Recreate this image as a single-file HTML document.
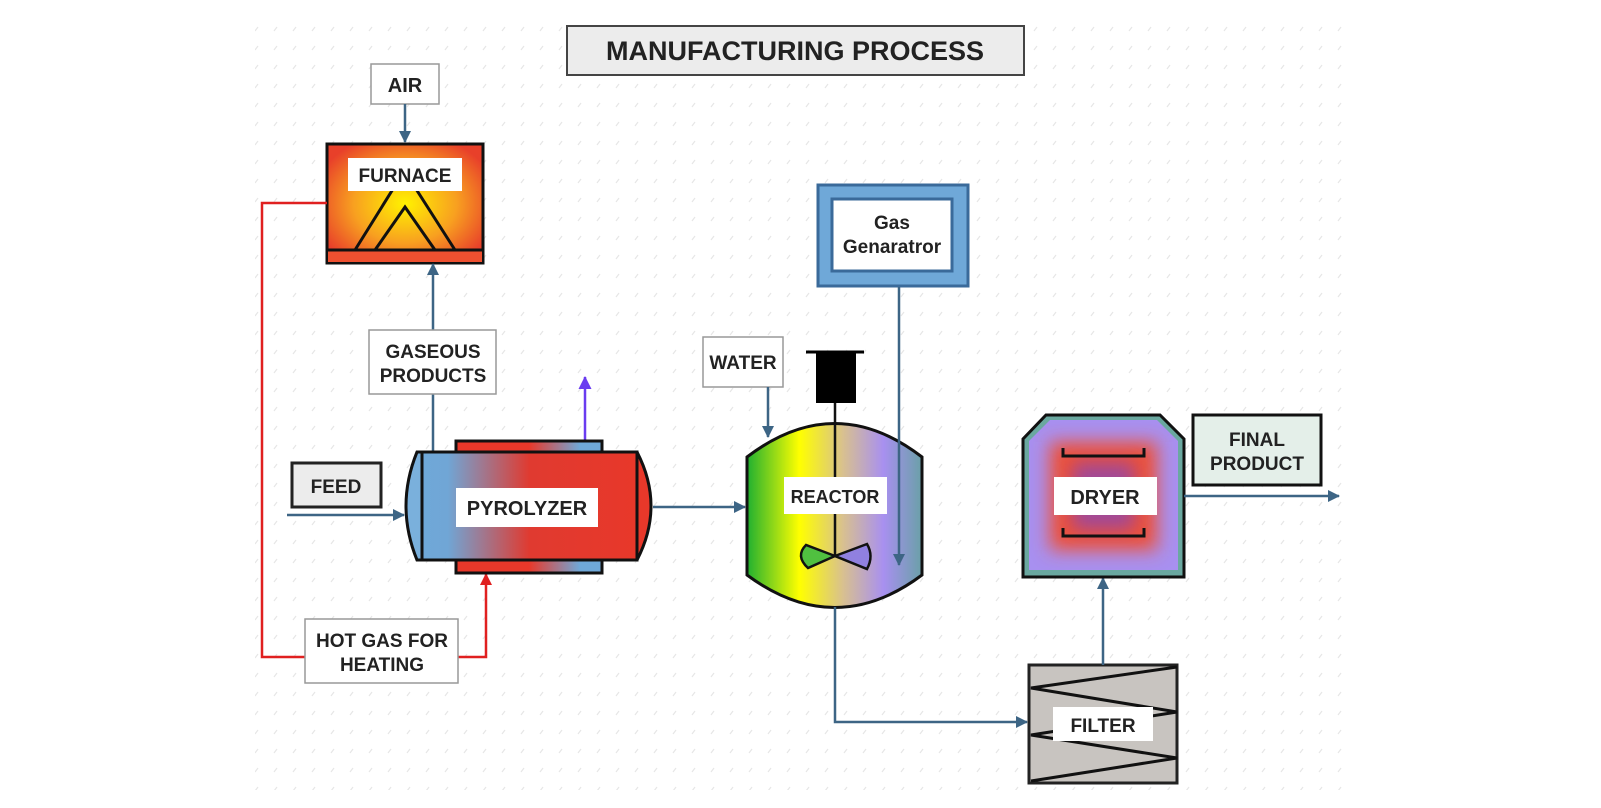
<!DOCTYPE html>
<html><head><meta charset="utf-8"><style>
html,body{margin:0;padding:0;background:#fff;}
svg{display:block;}
text{font-family:"Liberation Sans",Arial,sans-serif;font-weight:bold;fill:#222;text-anchor:middle;}
</style></head><body>
<svg width="1601" height="808" viewBox="0 0 1601 808" xmlns="http://www.w3.org/2000/svg">
<defs>
<pattern id="bg" width="19" height="19" patternUnits="userSpaceOnUse">
<line x1="8" y1="12" x2="11" y2="8" stroke="#e6e6e6" stroke-width="1.2"/>
</pattern>
<marker id="ab" markerWidth="12" markerHeight="12" refX="11" refY="6" orient="auto" markerUnits="userSpaceOnUse"><path d="M0,0 L12,6 L0,12 Z" fill="#3d6585"/></marker>
<marker id="ar" markerWidth="12" markerHeight="12" refX="11" refY="6" orient="auto" markerUnits="userSpaceOnUse"><path d="M0,0 L12,6 L0,12 Z" fill="#e02020"/></marker>
<marker id="ap" markerWidth="13" markerHeight="13" refX="12" refY="6.5" orient="auto" markerUnits="userSpaceOnUse"><path d="M0,0 L13,6.5 L0,13 Z" fill="#6a3cf0"/></marker>
<radialGradient id="fg" cx="0.5" cy="0.5" r="0.6"><stop offset="0" stop-color="#fff200"/><stop offset="0.55" stop-color="#f8a020"/><stop offset="1" stop-color="#e8402a"/></radialGradient>
<linearGradient id="pb" x1="0" x2="1"><stop offset="0" stop-color="#6fa8d8"/><stop offset="0.12" stop-color="#70a6d6"/><stop offset="0.5" stop-color="#e03a30"/><stop offset="1" stop-color="#e8382a"/></linearGradient>
<linearGradient id="pj" x1="0" x2="1"><stop offset="0" stop-color="#e8382a"/><stop offset="0.5" stop-color="#e8382a"/><stop offset="0.85" stop-color="#6fa8d8"/><stop offset="1" stop-color="#6fa8d8"/></linearGradient>
<linearGradient id="rg" x1="0" x2="1"><stop offset="0" stop-color="#20b030"/><stop offset="0.3" stop-color="#ffff00"/><stop offset="0.55" stop-color="#d8c090"/><stop offset="0.78" stop-color="#a890f0"/><stop offset="1" stop-color="#6aa0a8"/></linearGradient>
<filter id="bl" x="-50%" y="-50%" width="200%" height="200%"><feGaussianBlur stdDeviation="9"/></filter>
<clipPath id="dc"><path d="M1050,420 L1157,420 L1178,441 L1178,570 L1029,570 L1029,441 Z"/></clipPath>
</defs>
<rect x="255" y="25" width="1090" height="765" fill="url(#bg)"/>

<rect x="567" y="26" width="457" height="49" fill="#ececec" stroke="#444" stroke-width="2"/>
<text x="795" y="60" font-size="27" fill="#333">MANUFACTURING PROCESS</text>

<rect x="371" y="64" width="68" height="40" fill="#fff" stroke="#999" stroke-width="1.5"/>
<text x="405" y="92" font-size="20">AIR</text>
<line x1="405" y1="104" x2="405" y2="142" stroke="#3d6585" stroke-width="2.5" marker-end="url(#ab)"/>

<rect x="327" y="144" width="156" height="119" fill="url(#fg)" stroke="#111" stroke-width="3"/>
<rect x="328" y="250" width="154" height="12" fill="#ee5030"/>
<line x1="327" y1="250" x2="483" y2="250" stroke="#111" stroke-width="3"/>
<polyline points="355,250 393,189 416,189 455,250" fill="none" stroke="#111" stroke-width="3"/>
<polyline points="375,250 405,207 435,250" fill="none" stroke="#111" stroke-width="3"/>
<rect x="348" y="158" width="114" height="33" fill="#fff"/>
<text x="405" y="182" font-size="19">FURNACE</text>

<polyline points="327,203 262,203 262,657 305,657" fill="none" stroke="#e02020" stroke-width="2.5"/>
<polyline points="458,657 486,657 486,574" fill="none" stroke="#e02020" stroke-width="2.5" marker-end="url(#ar)"/>
<rect x="305" y="619" width="153" height="64" fill="#fff" stroke="#999" stroke-width="1.5"/>
<text x="382" y="647" font-size="19">HOT GAS FOR</text>
<text x="382" y="671" font-size="19">HEATING</text>

<line x1="433" y1="452" x2="433" y2="264" stroke="#3d6585" stroke-width="2.5" marker-end="url(#ab)"/>
<rect x="369" y="330" width="127" height="64" fill="#fff" stroke="#999" stroke-width="1.5"/>
<text x="433" y="358" font-size="19">GASEOUS</text>
<text x="433" y="382" font-size="19">PRODUCTS</text>

<line x1="585" y1="441" x2="585" y2="377" stroke="#6a3cf0" stroke-width="2.5" marker-end="url(#ap)"/>

<rect x="292" y="463" width="89" height="44" fill="#ececec" stroke="#222" stroke-width="3"/>
<text x="336" y="493" font-size="19">FEED</text>
<line x1="287" y1="515" x2="404" y2="515" stroke="#3d6585" stroke-width="2.5" marker-end="url(#ab)"/>

<rect x="456" y="441" width="146" height="132" fill="url(#pj)" stroke="#111" stroke-width="3"/>
<path d="M417,452 Q395,506 417,560 L422,560 L422,452 Z" fill="#7ab0dc" stroke="#111" stroke-width="3"/>
<path d="M637,452 Q665,506 637,560 Z" fill="#e8382a" stroke="#111" stroke-width="3"/>
<rect x="422" y="452" width="215" height="108" fill="url(#pb)" stroke="#111" stroke-width="3"/>
<rect x="456" y="488" width="142" height="39" fill="#fff"/>
<text x="527" y="515" font-size="20">PYROLYZER</text>
<line x1="653" y1="507" x2="745" y2="507" stroke="#3d6585" stroke-width="2.5" marker-end="url(#ab)"/>

<rect x="703" y="337" width="80" height="50" fill="#fff" stroke="#999" stroke-width="1.5"/>
<text x="743" y="369" font-size="19">WATER</text>
<line x1="768" y1="387" x2="768" y2="437" stroke="#3d6585" stroke-width="2.5" marker-end="url(#ab)"/>

<path d="M747,457 Q835,390 922,457 L922,575 Q835,640 747,575 Z" fill="url(#rg)" stroke="#111" stroke-width="3"/>
<rect x="816" y="352" width="40" height="51" fill="#000"/>
<line x1="806" y1="352" x2="864" y2="352" stroke="#000" stroke-width="3"/>
<line x1="835" y1="403" x2="835" y2="556" stroke="#111" stroke-width="2.5"/>
<path d="M835,556 L806,545 Q795,556 808,568 Z" fill="#50c040" stroke="#111" stroke-width="2.5"/>
<path d="M835,556 L867,544 Q874,556 867,569 Z" fill="#9080e0" stroke="#111" stroke-width="2.5"/>
<rect x="784" y="477" width="103" height="37" fill="#fff"/>
<text x="835" y="503" font-size="18">REACTOR</text>

<rect x="818" y="185" width="150" height="101" fill="#6fa8d8" stroke="#3a6a9a" stroke-width="3"/>
<rect x="832" y="199" width="120" height="72" fill="#fff" stroke="#3a6a9a" stroke-width="3"/>
<text x="892" y="229" font-size="19">Gas</text>
<text x="892" y="253" font-size="19">Genaratror</text>
<line x1="899" y1="287" x2="899" y2="565" stroke="#3d6585" stroke-width="2.5" marker-end="url(#ab)"/>

<polyline points="835,607 835,722 1027,722" fill="none" stroke="#3d6585" stroke-width="2.5" marker-end="url(#ab)"/>

<rect x="1029" y="665" width="148" height="118" fill="#c8c4c0" stroke="#222" stroke-width="3"/>
<polyline points="1177,667 1031,688 1177,712 1031,735 1177,758 1031,781" fill="none" stroke="#111" stroke-width="3"/>
<rect x="1053" y="707" width="100" height="34" fill="#fff"/>
<text x="1103" y="732" font-size="19">FILTER</text>
<line x1="1103" y1="665" x2="1103" y2="578" stroke="#3d6585" stroke-width="2.5" marker-end="url(#ab)"/>

<path d="M1046,415 L1160,415 L1184,439 L1184,577 L1023,577 L1023,439 Z" fill="#6aa8a0" stroke="#111" stroke-width="3"/>
<g clip-path="url(#dc)">
<rect x="1020" y="410" width="170" height="170" fill="#a890f0"/>
<rect x="1050" y="442" width="107" height="108" fill="#f05030" filter="url(#bl)"/>
<rect x="1072" y="462" width="63" height="68" fill="#a04898" filter="url(#bl)"/>
</g>
<polyline points="1063,448 1063,456 1144,456 1144,448" fill="none" stroke="#111" stroke-width="3"/>
<polyline points="1063,528 1063,536 1144,536 1144,528" fill="none" stroke="#111" stroke-width="3"/>
<rect x="1054" y="477" width="103" height="38" fill="#fff"/>
<text x="1105" y="504" font-size="20">DRYER</text>

<rect x="1193" y="415" width="128" height="70" fill="#e4efe9" stroke="#111" stroke-width="3"/>
<text x="1257" y="446" font-size="19">FINAL</text>
<text x="1257" y="470" font-size="19">PRODUCT</text>
<line x1="1184" y1="496" x2="1339" y2="496" stroke="#3d6585" stroke-width="2.5" marker-end="url(#ab)"/>
</svg>
</body></html>
